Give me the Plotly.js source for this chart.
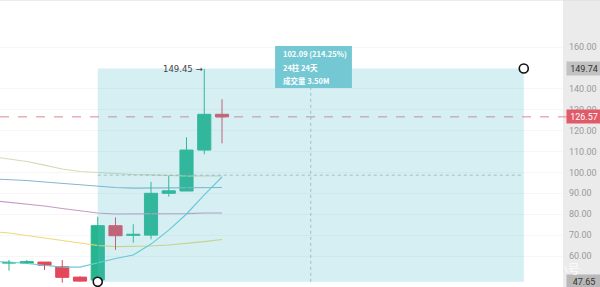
<!DOCTYPE html>
<html>
<head>
<meta charset="utf-8">
<script src="https://cdn.plot.ly/plotly-3.0.1.min.js"></script>
<style>
  html, body { margin: 0; padding: 0; background: #fff; }
  #chart { width: 600px; height: 287px; }
</style>
</head>
<body>
<div id="chart"></div>
<script>
// Daily candles (bar index, OHLC)
const barIndex = [0, 1, 2, 3, 4, 5, 6, 7, 8, 9, 10, 11, 12];
const openP  = [56.6, 56.6, 57.1, 54.9, 49.9, 48.5, 74.5, 69.9, 70.0, 90.0, 91.1, 110.7, 127.8];
const highP  = [58.1, 58.1, 57.1, 58.1, 50.3, 78.8, 78.5, 75.2, 95.5, 98.3, 116.8, 149.45, 135.0];
const lowP   = [53.0, 56.4, 53.3, 47.2, 47.7, 47.65, 62.9, 66.4, 68.0, 88.4, 91.1, 108.7, 113.9];
const closeP = [56.9, 57.3, 55.6, 49.8, 48.0, 74.5, 69.7, 70.4, 90.0, 91.2, 110.7, 127.8, 126.57];

// Moving averages, starting one bar before the first visible candle
const maIndex = [-1, 0, 1, 2, 3, 4, 5, 6, 7, 8, 9, 10, 11, 12];
const maOlive  = [107.6, 106.4, 105.2, 103.5, 101.6, 100.4, 99.9, 99.5, 99.0, 98.8, 98.5, 98.3, 98.3, 98.3];
const maBlue   = [96.9, 96.6, 96.1, 95.4, 94.7, 94.0, 93.3, 92.8, 92.5, 92.5, 92.5, 92.5, 92.5, 92.8];
const maPurple = [86.6, 85.8, 84.9, 83.9, 82.7, 81.5, 80.6, 80.1, 80.1, 80.1, 80.3, 80.3, 80.6, 80.6];
const maYellow = [71.7, 71.0, 69.8, 68.6, 67.2, 66.0, 65.0, 64.5, 64.5, 64.8, 65.3, 66.0, 66.9, 67.9];
const maCyan   = [57.4, 57.1, 56.4, 55.4, 54.7, 54.7, 56.9, 58.8, 60.5, 65.7, 72.4, 80.1, 89.2, 97.8];

// Price range measurement
const measureFrom = { bar: 5, price: 47.65 };
const measureTo   = { bar: 29, price: 149.74 };
const lastPrice = 126.57;
const highLabel = 149.45;
const yTicks = [60, 70, 80, 90, 100, 110, 120, 130, 140, 160];
const infoLines = ['102.09 (214.25%)', '24柱 24天', '成交量 3.50M'];

const UP = '#26b58c', DOWN = '#e3475a';

// Wicks
function wicks(up) {
  const xs = [], ys = [];
  barIndex.forEach((b, i) => {
    if ((closeP[i] >= openP[i]) === up) {
      xs.push(b, b, null); ys.push(lowP[i], highP[i], null);
    }
  });
  return { type: 'scatter', mode: 'lines', x: xs, y: ys,
           line: { color: up ? UP : DOWN, width: 1 }, hoverinfo: 'skip', showlegend: false };
}

const bodyColors = barIndex.map((b, i) => closeP[i] >= openP[i] ? UP : DOWN);
const bodies = {
  type: 'bar', x: barIndex,
  base: barIndex.map((b, i) => Math.min(openP[i], closeP[i])),
  y: barIndex.map((b, i) => Math.abs(closeP[i] - openP[i])),
  width: 0.74,
  marker: { color: bodyColors, line: { color: bodyColors, width: 1 } },
  hoverinfo: 'skip', showlegend: false
};

function ma(vals, color) {
  return { type: 'scatter', mode: 'lines', x: maIndex, y: vals,
           line: { color: color, width: 1.1 }, hoverinfo: 'skip', showlegend: false };
}

const traces = [
  ma(maOlive, '#d6dab4'),
  ma(maBlue, '#86b6cf'),
  ma(maPurple, '#c79ac8'),
  ma(maYellow, '#ecd97a'),
  ma(maCyan, '#6ccbd6'),
  wicks(true), wicks(false), bodies
];

const midBar = (measureFrom.bar + measureTo.bar) / 2;
const midPrice = (measureFrom.price + measureTo.price) / 2;

const shapes = [
  { type: 'line', xref: 'paper', x0: 0, x1: 1.012, y0: lastPrice, y1: lastPrice, layer: 'below',
    line: { color: '#e0868d', width: 1, dash: 'dash' } },
  { type: 'line', xref: 'paper', yref: 'paper', x0: 0, x1: 1.07, y0: 1, y1: 1,
    line: { color: '#dcdcdc', width: 1 } },
  { type: 'rect', x0: measureFrom.bar, x1: measureTo.bar, y0: measureFrom.price, y1: measureTo.price,
    fillcolor: 'rgba(88,190,206,0.25)', line: { width: 0 }, layer: 'above' },
  { type: 'line', x0: measureFrom.bar, x1: measureTo.bar, y0: midPrice, y1: midPrice, layer: 'above',
    line: { color: 'rgba(120,160,170,0.6)', width: 1, dash: 'dot' } },
  { type: 'line', x0: midBar, x1: midBar, y0: measureFrom.price, y1: measureTo.price, layer: 'above',
    line: { color: 'rgba(120,160,170,0.6)', width: 1, dash: 'dot' } },
  { type: 'rect', x0: 14.99, x1: 19.32, y0: 140.4, y1: 160.5, layer: 'above',
    fillcolor: '#74c8d3', line: { width: 0 } }
];
[measureFrom, measureTo].forEach(p => shapes.push({
  type: 'circle', layer: 'above',
  xsizemode: 'pixel', xanchor: p.bar, x0: -4.5, x1: 4.5,
  ysizemode: 'pixel', yanchor: p.price, y0: -4.5, y1: 4.5,
  fillcolor: '#ffffff', line: { color: '#111', width: 1.6 }
}));

const cjk = 'Noto Sans CJK SC, Roboto, sans-serif';
const annotations = [];
infoLines.forEach((t, k) => annotations.push({
  x: 15.33, y: [157.1, 150.4, 144.2][k], xanchor: 'left', yanchor: 'middle', showarrow: false,
  text: '<b>' + t + '</b>', font: { family: cjk, size: 7.5, color: '#ffffff' }
}));
annotations.push({
  x: 11, y: highLabel, xanchor: 'right', yanchor: 'middle', xshift: 1, showarrow: false,
  text: highLabel.toFixed(2) + ' →',
  font: { family: 'DejaVu Sans, sans-serif', size: 8.5, color: '#444' }
});
function priceTag(v, bg, fg) {
  annotations.push({
    xref: 'paper', x: 1, xanchor: 'left', xshift: 3, y: v, yanchor: 'middle', showarrow: false,
    text: v.toFixed(2), bgcolor: bg, borderpad: 1.5, width: 31, height: 10,
    font: { family: 'Roboto, sans-serif', size: 9, color: fg }
  });
}
priceTag(measureTo.price, '#c2c2c2', '#333');
priceTag(lastPrice, '#e05a68', '#ffffff');
priceTag(measureFrom.price, '#b8b8b8', '#333');
annotations.push({
  xref: 'paper', yref: 'paper', x: 0.985, y: 0.063, xanchor: 'center', yanchor: 'middle', showarrow: false,
  text: '三 非小号', font: { family: cjk, size: 12, color: 'rgba(255,255,255,0.92)' }
});

const layout = {
  width: 600, height: 287,
  margin: { l: 0, r: 37, t: 0, b: 0, pad: 0 },
  paper_bgcolor: '#ebebeb', plot_bgcolor: '#ffffff',
  showlegend: false, hovermode: false, bargap: 0,
  xaxis: { range: [-0.507, 31.21], showticklabels: false, showgrid: false, zeroline: false, fixedrange: true },
  yaxis: {
    side: 'right', range: [45.17, 182.49], tickvals: yTicks, tickformat: '.2f',
    ticks: '', ticklabelstandoff: 5, showline: false, zeroline: false,
    gridcolor: '#f6f6f6', tickfont: { family: 'Roboto, sans-serif', size: 9, color: '#9a9a9a' }
  },
  shapes: shapes, annotations: annotations
};

Plotly.newPlot('chart', traces, layout, { staticPlot: true, displayModeBar: false });
</script>
</body>
</html>
